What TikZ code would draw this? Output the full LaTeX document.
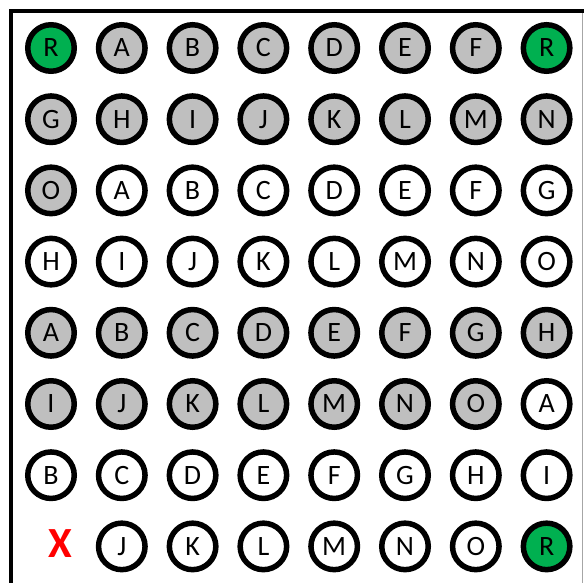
\documentclass[tikz,border=0pt]{standalone}
\usepackage{fontspec}
\setmainfont{Carlito}
\definecolor{cgrey}{HTML}{BFBFBF}
\definecolor{cgreen}{HTML}{00B050}
\definecolor{cred}{HTML}{FF0000}
\begin{document}
\begin{tikzpicture}[x=1pt,y=-1pt,
  disc/.style={circle,draw=black,line width=5.5pt,minimum size=46.5pt,inner sep=0pt,font=\fontsize{28}{28}\selectfont},
  g/.style={disc,fill=cgrey},
  w/.style={disc,fill=white},
  gr/.style={disc,fill=cgreen},
  cross/.style={text=cred,font=\fontsize{43}{43}\bfseries\selectfont,inner sep=0pt,xshift=9pt,yshift=3pt}]
\useasboundingbox (0,0) rectangle (584,583);
\fill[white] (0,0) rectangle (584,583);
% frame
\draw[line width=4.5pt] (11,583) -- (11,11) -- (584,11);
\draw[line width=1pt,color=gray!70] (582,13.5) -- (582,583);
% grid
\foreach \r/\row in {
  1/{gr/R,g/A,g/B,g/C,g/D,g/E,g/F,gr/R},
  2/{g/G,g/H,g/I,g/J,g/K,g/L,g/M,g/N},
  3/{g/O,w/A,w/B,w/C,w/D,w/E,w/F,w/G},
  4/{w/H,w/I,w/J,w/K,w/L,w/M,w/N,w/O},
  5/{g/A,g/B,g/C,g/D,g/E,g/F,g/G,g/H},
  6/{g/I,g/J,g/K,g/L,g/M,g/N,g/O,w/A},
  7/{w/B,w/C,w/D,w/E,w/F,w/G,w/H,w/I},
  8/{cross/X,w/J,w/K,w/L,w/M,w/N,w/O,gr/R}}{
  \foreach \s/\t [count=\c] in \row {
    \pgfmathsetmacro{\px}{51+70.8*(\c-1)}
    \pgfmathsetmacro{\py}{48+71.2*(\r-1)}
    \node[\s] (n\r-\c) at (\px,\py) {\t};
  }
}
\end{tikzpicture}
\end{document}
